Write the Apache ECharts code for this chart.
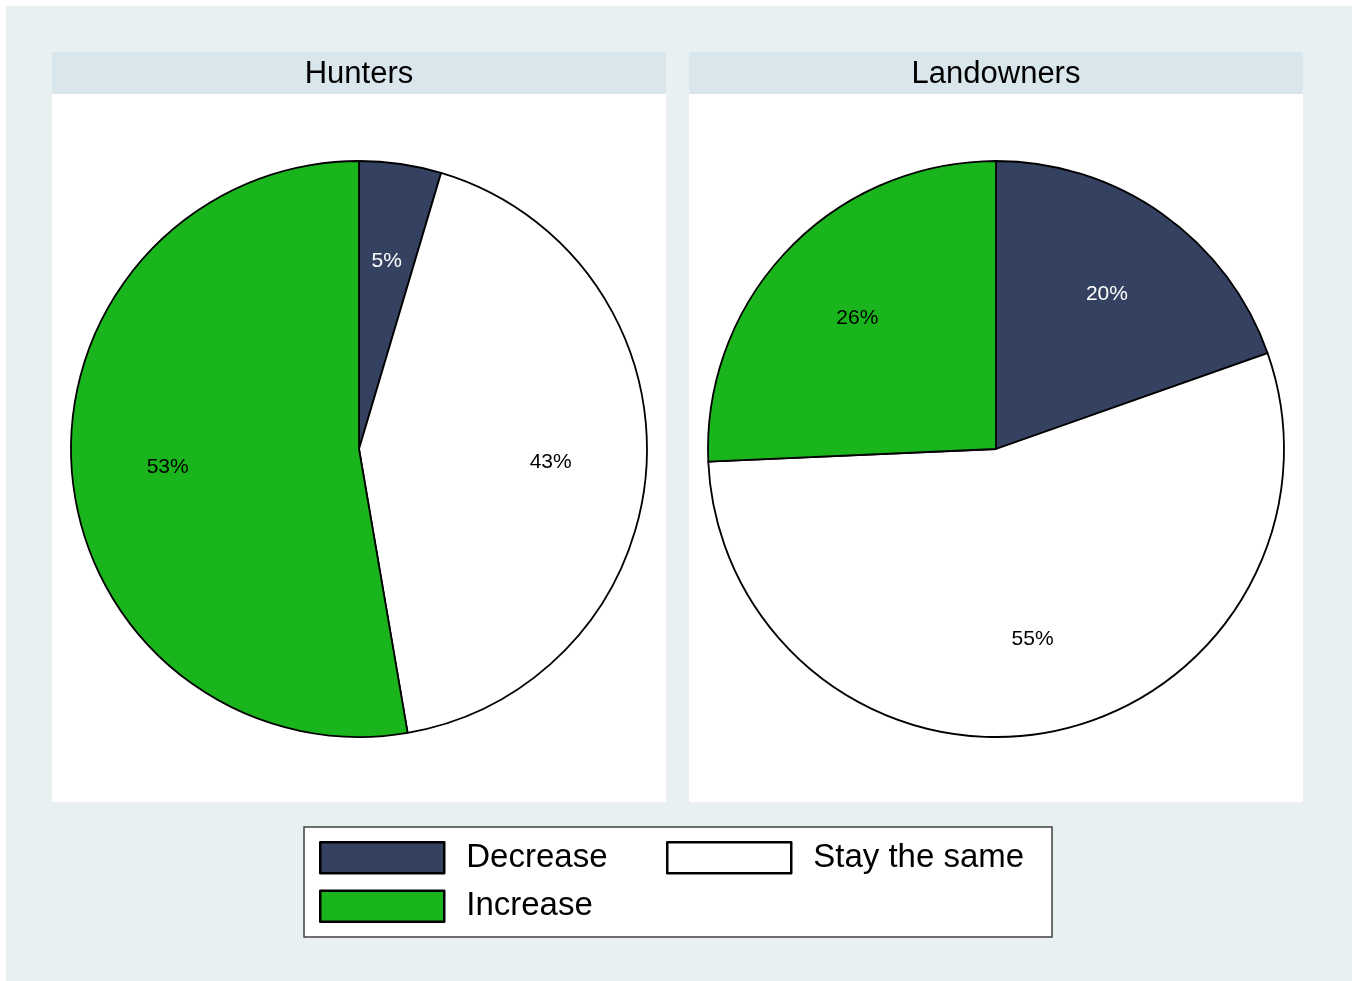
<!DOCTYPE html>
<html>
<head>
<meta charset="utf-8">
<script src="https://cdn.jsdelivr.net/npm/echarts@6/dist/echarts.min.js"></script>
<style>
html,body{margin:0;padding:0;background:#ffffff;}
#chart{width:1352px;height:981px;}
</style>
</head>
<body>
<div id="chart"></div>
<script>
// Data
const panels = ['Hunters', 'Landowners'];
const categories = ['Decrease', 'Stay the same', 'Increase'];
const huntersValues = [4.6, 42.7, 52.7];
const landownersValues = [19.6, 54.7, 25.7];
const colors = ['#344161', '#ffffff', '#1ab51c'];

const FONT = '"Liberation Sans", Arial, sans-serif';
const centers = [[359, 449], [996, 449]];
const R = 288;
const panelX = [52, 689];
const panelW = 614;

function makeData(vals) {
  return categories.map((c, i) => ({ name: c, value: vals[i], itemStyle: { color: colors[i] } }));
}
const labelColors = { 'Decrease': '#ffffff', 'Stay the same': '#000000', 'Increase': '#000000' };

const series = [];
[huntersValues, landownersValues].forEach((vals, k) => {
  series.push({
    type: 'pie', name: panels[k], center: centers[k], radius: [0, R],
    startAngle: 90, clockwise: true, silent: true,
    itemStyle: { borderColor: '#000000', borderWidth: 1.8 },
    label: { show: false }, labelLine: { show: false },
    emphasis: { disabled: true },
    data: makeData(vals)
  });
  series.push({
    type: 'pie', name: panels[k] + ' labels', center: [centers[k][0], centers[k][1] + 2], radius: [90, R],
    startAngle: 90, clockwise: true, silent: true,
    itemStyle: { color: 'rgba(0,0,0,0)', borderWidth: 0 },
    label: {
      show: true, position: 'inside', fontFamily: FONT, fontSize: 21,
      formatter: p => Math.round(p.percent) + '%',
      color: '#000'
    },
    labelLine: { show: false },
    emphasis: { disabled: true },
    data: categories.map((c, i) => ({ name: c, value: vals[i], label: { color: labelColors[c] } }))
  });
});

const graphics = [
  { type: 'rect', shape: { x: 6, y: 6, width: 1346, height: 975 }, style: { fill: '#e8f0f2' }, z: -10 }
];
panelX.forEach(x => {
  graphics.push({ type: 'rect', shape: { x: x, y: 52, width: panelW, height: 42 }, style: { fill: '#d9e6eb' }, z: -9 });
  graphics.push({ type: 'rect', shape: { x: x, y: 94, width: panelW, height: 708 }, style: { fill: '#ffffff' }, z: -9 });
});
graphics.push({ type: 'rect', shape: { x: 304, y: 827, width: 748, height: 110 }, style: { fill: '#ffffff', stroke: '#404040', lineWidth: 1.5 }, z: -9 });

const legendCommon = {
  orient: 'vertical', itemWidth: 124, itemHeight: 31, itemGap: 15, padding: 0,
  selectedMode: false, icon: 'rect',
  itemStyle: { borderColor: '#000', borderWidth: 2.5 },
  textStyle: { fontFamily: FONT, fontSize: 33, color: '#000', padding: [0, 0, 0, 17] }
};

const option = {
  animation: false,
  backgroundColor: '#ffffff',
  title: panels.map((p, k) => ({
    text: p, left: centers[k][0], top: 59, textAlign: 'center', padding: 0,
    textStyle: { fontFamily: FONT, fontSize: 31, fontWeight: 'normal', color: '#000' }
  })),
  legend: [
    Object.assign({}, legendCommon, { left: 319, top: 841,
      data: [{ name: 'Decrease', itemStyle: { color: colors[0] } }, { name: 'Increase', itemStyle: { color: colors[2] } }] }),
    Object.assign({}, legendCommon, { left: 666, top: 841,
      data: [{ name: 'Stay the same', itemStyle: { color: colors[1] } }] })
  ],
  graphic: graphics,
  series: series
};

const chart = echarts.init(document.getElementById('chart'), null, { renderer: 'canvas' });
chart.setOption(option);
</script>
</body>
</html>
